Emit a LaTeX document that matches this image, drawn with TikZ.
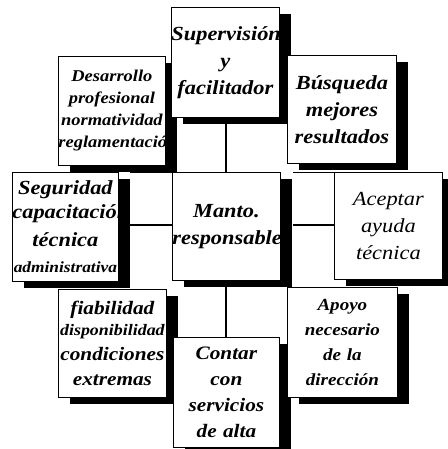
\documentclass[tikz,border=0pt]{standalone}
\usepackage{fontspec}
\setmainfont[FakeStretch=1.12]{Liberation Serif}
\usetikzlibrary{shadows}
\tikzset{
  box/.style={draw=black, line width=0.8pt, fill=white, anchor=north west,
    inner sep=0pt, align=center,
    drop shadow={shadow xshift=12pt, shadow yshift=-7pt, fill=black, opacity=1}},
  link/.style={draw=black, line width=1.2pt},
  bigtxt/.style={font=\fontsize{20}{27}\selectfont\bfseries\itshape},
  smtxt/.style={font=\fontsize{16.5}{22}\selectfont\bfseries\itshape}
}
\begin{document}
\begin{tikzpicture}[x=1pt,y=-1pt]
\useasboundingbox (0,0) rectangle (447,449);
% corner / edge boxes
\node[box, smtxt, minimum width=107pt, minimum height=109pt, text width=107pt] (des) at (58,56)
  {Desarrollo\\ profesional\\ normatividad\\ reglamentación};
\node[box, bigtxt, minimum width=108pt, minimum height=110pt, text width=108pt] (sup) at (171,7)
  {Supervisión\\ y\\ facilitador};
\node[box, bigtxt, minimum width=109pt, minimum height=108pt, text width=109pt] (bus) at (287,55)
  {Búsqueda\\ mejores\\ resultados};
\node[box, font=\fontsize{20}{28}\selectfont\bfseries\itshape, minimum width=106pt, minimum height=109pt, text width=106pt] (seg) at (12,172)
  {Seguridad\\[-4pt] capacitación\\ técnica\\[-2pt] {\fontsize{15.5}{18}\selectfont administrativa}};
\node[box, bigtxt, minimum width=108pt, minimum height=108pt, text width=108pt] (cen) at (172,172)
  {Manto.\\ responsable};
\node[box, font=\fontsize{20}{27}\selectfont\itshape, minimum width=108pt, minimum height=107pt, text width=108pt] (ace) at (334,172)
  {Aceptar\\ ayuda\\ técnica};
\node[box, font=\fontsize{19}{25}\selectfont\bfseries\itshape, minimum width=108pt, minimum height=108pt, text width=108pt] (fia) at (58,289)
  {fiabilidad\\[-4pt] {\fontsize{16}{18}\selectfont disponibilidad}\\ condiciones\\ extremas};
\node[box, font=\fontsize{19}{26}\selectfont\bfseries\itshape, minimum width=106pt, minimum height=110pt, text width=106pt] (con) at (173,337)
  {Contar\\ con\\ servicios\\ de alta};
\node[box, font=\fontsize{17}{25}\selectfont\bfseries\itshape, minimum width=110pt, minimum height=110pt, text width=110pt] (apo) at (287,287)
  {Apoyo\\ necesario\\ de la\\ dirección};
% connectors to the centre
\coordinate (supb) at (226,124);
\coordinate (segr) at (130,225);
\coordinate (cenr) at (293,225);
\coordinate (cenb) at (226,287);
\draw[link] (supb) -- (cen.north -| supb);
\draw[link] (cenb) -- (con.north -| cenb);
\draw[link] (segr) -- (cen.west |- segr);
\draw[link] (cenr) -- (ace.west |- cenr);
% thin top lines of the side cells
\coordinate (segt) at (130,172);
\coordinate (cent) at (293,172);
\draw[line width=0.8pt] (segt) -- (cen.north west);
\draw[line width=0.8pt] (cent) -- (ace.north west);
\end{tikzpicture}
\end{document}
